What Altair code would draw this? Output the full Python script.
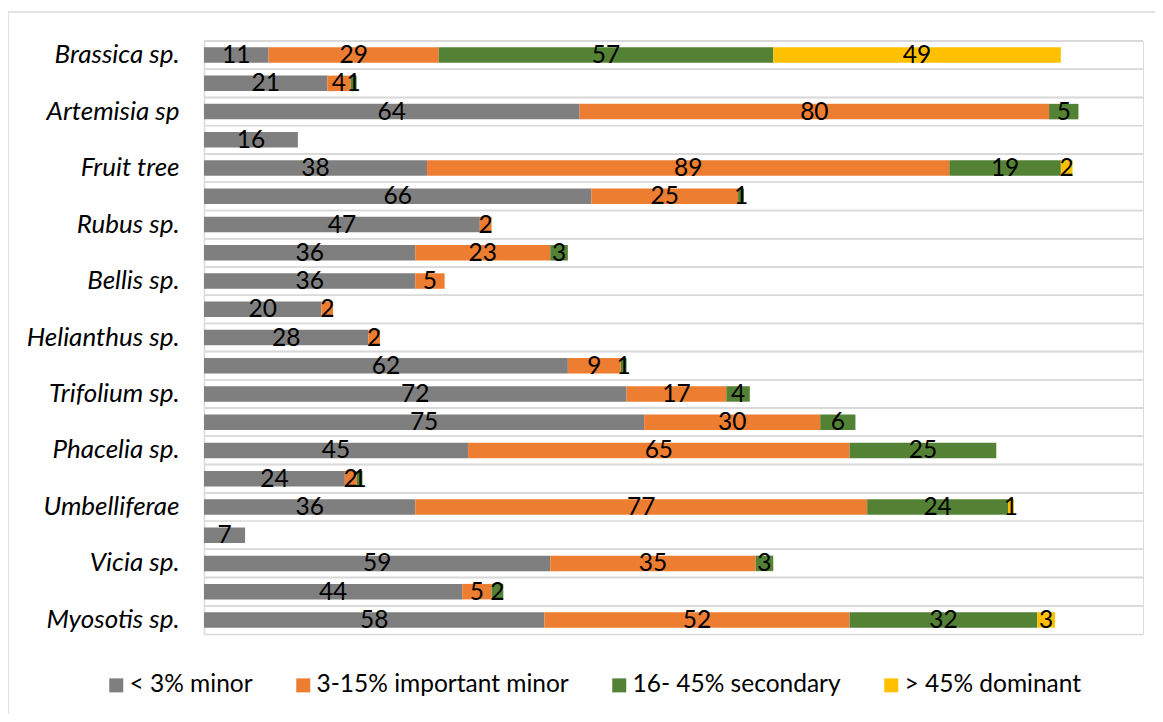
import altair as alt
import pandas as pd

rows = ["Brassica sp.", "", "Artemisia sp", "", "Fruit tree", "", "Rubus sp.", "",
        "Bellis sp.", "", "Helianthus sp.", "", "Trifolium sp.", "", "Phacelia sp.", "",
        "Umbelliferae", "", "Vicia sp.", "", "Myosotis sp."]
series = ["< 3% minor", "3-15% important minor", "16- 45% secondary", "> 45% dominant"]
colors = ["#7f7f7f", "#ed7d31", "#548235", "#ffc000"]
minor = [11, 21, 64, 16, 38, 66, 47, 36, 36, 20, 28, 62, 72, 75, 45, 24, 36, 7, 59, 44, 58]
important = [29, 4, 80, 0, 89, 25, 2, 23, 5, 2, 2, 9, 17, 30, 65, 2, 77, 0, 35, 5, 52]
secondary = [57, 1, 5, 0, 19, 1, 0, 3, 0, 0, 0, 1, 4, 6, 25, 1, 24, 0, 3, 2, 32]
dominant = [49, 0, 0, 0, 2, 0, 0, 0, 0, 0, 0, 0, 0, 0, 0, 0, 1, 0, 0, 0, 3]

records = []
for i in range(len(rows)):
    for k, vals in enumerate([minor, important, secondary, dominant]):
        if vals[i] > 0:
            records.append({"row": i, "series": series[k], "order": k, "value": vals[i]})
df = pd.DataFrame(records)

FONT = "Lato"
FS = 24.5
label_js = "[" + ",".join("'" + r + "'" for r in rows) + "][datum.value]"

yscale = alt.Scale(paddingInner=0, paddingOuter=0)

base = alt.Chart(df).transform_stack(
    stack="value", groupby=["row"], as_=["x0", "x1"], sort=[alt.SortField("order")]
).transform_calculate(mid="(datum.x0 + datum.x1) / 2")

xscale = alt.Scale(domain=[0, 160], nice=False, zero=True)

bars = base.mark_bar(size=15.5).encode(
    y=alt.Y("row:O", scale=yscale, sort="ascending",
            axis=alt.Axis(title=None, labelExpr=label_js, ticks=False, grid=False,
                          domainColor="#d9d9d9", domainWidth=1.5, labelPadding=25,
                          labelFont=FONT, labelFontSize=26, labelFontStyle="italic",
                          labelColor="#000000")),
    x=alt.X("x0:Q", scale=xscale,
            axis=alt.Axis(title=None, labels=False, ticks=False, grid=False,
                          domainColor="#d9d9d9", domainWidth=1.5)),
    x2="x1:Q",
    color=alt.Color("series:N", scale=alt.Scale(domain=series, range=colors),
                    legend=alt.Legend(title=None, orient="none", direction="horizontal",
                                      legendX=-100, legendY=632, symbolType="square",
                                      symbolSize=196, symbolStrokeWidth=0,
                                      labelFont=FONT, labelFontSize=FS, labelColor="#000000",
                                      columnPadding=38, labelOffset=1, labelLimit=400)),
)

grid = base.mark_rule(color="#d9d9d9", strokeWidth=1.5).encode(
    y=alt.Y("row:O", bandPosition=0, scale=yscale, sort="ascending"),
)

labels = base.mark_text(font=FONT, fontSize=FS, color="#000000", baseline="middle", dy=1).encode(
    y=alt.Y("row:O", scale=yscale, sort="ascending"),
    x=alt.X("mid:Q", scale=xscale),
    text=alt.Text("value:Q"),
)

border = alt.Chart(alt.Data(values=[{}])).mark_rect(
    fill=None, stroke="#d9d9d9", strokeWidth=1.5, clip=False
).encode(x=alt.value(-196), x2=alt.value(1000), y=alt.value(-29), y2=alt.value(720))

chart = alt.layer(border, grid, bars, labels).properties(
    width=939, height=593,
    autosize=alt.AutoSizeParams(type="none"),
    padding={"left": 196, "top": 33, "right": 12, "bottom": 80},
).configure_view(stroke=None).configure(background="#ffffff")

chart.save("out.html", embed_options={"renderer": "svg", "actions": False})
